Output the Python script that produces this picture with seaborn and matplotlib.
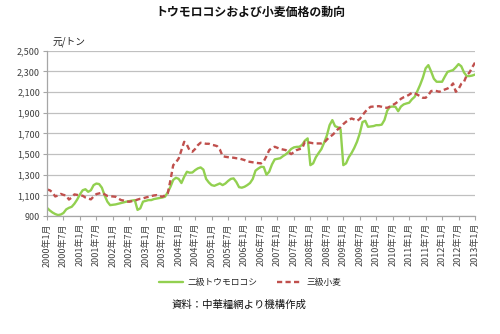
import matplotlib
matplotlib.use("Agg")
import matplotlib.pyplot as plt
import seaborn as sns
import pandas as pd
import numpy as np

# Monthly prices (yuan/ton), January 2000 through January 2013
corn = [
    980, 955, 935, 920, 910, 915, 930, 965, 980, 990, 1020, 1060,
    1110, 1150, 1160, 1135, 1150, 1200, 1215, 1210, 1175, 1100, 1040, 1006,
    1010, 1013, 1020, 1028, 1035, 1040, 1045, 1050, 1055, 960, 975, 1040,
    1048, 1055, 1055, 1065, 1070, 1075, 1080, 1087, 1130, 1184, 1250, 1271,
    1260, 1220, 1280, 1329, 1320, 1322, 1345, 1362, 1371, 1350, 1260, 1225,
    1200, 1193, 1205, 1216, 1200, 1215, 1240, 1260, 1265, 1230, 1180, 1175,
    1184, 1200, 1220, 1260, 1340, 1360, 1377, 1375, 1300, 1330, 1400, 1449,
    1455, 1460, 1480, 1497, 1520, 1550, 1565, 1570, 1571, 1590, 1630, 1652,
    1393, 1410, 1470, 1510, 1548, 1610, 1680, 1780, 1829, 1770, 1760, 1740,
    1393, 1410, 1470, 1510, 1560, 1620, 1700, 1810, 1822, 1764, 1768, 1771,
    1780, 1780, 1785, 1830, 1920, 1958, 1960, 1958, 1915, 1960, 1981, 1990,
    1997, 2030, 2054, 2110, 2170, 2240, 2330, 2361, 2300, 2230, 2200, 2200,
    2200, 2250, 2296, 2305, 2313, 2340, 2371, 2350, 2290, 2255, 2255, 2260,
    2270,
]
wheat = [
    1158, 1150, 1130, 1090, 1100, 1115, 1105, 1100, 1060, 1080, 1110, 1105,
    1100, 1097, 1080, 1070, 1062, 1090, 1113, 1120, 1126, 1110, 1095, 1093,
    1090, 1087, 1070, 1055, 1050, 1042, 1039, 1045, 1050, 1060, 1068, 1071,
    1080, 1087, 1095, 1100, 1103, 1095, 1087, 1100, 1119, 1248, 1393, 1420,
    1458, 1540, 1619, 1590, 1535, 1523, 1550, 1587, 1610, 1605, 1600, 1600,
    1590, 1585, 1577, 1545, 1480, 1474, 1470, 1468, 1465, 1460, 1458, 1450,
    1442, 1428, 1425, 1420, 1416, 1413, 1410, 1430, 1480, 1539, 1560, 1571,
    1560, 1550, 1545, 1539, 1520, 1500, 1520, 1539, 1548, 1555, 1619, 1615,
    1610, 1605, 1603, 1603, 1603, 1610, 1640, 1667, 1684, 1710, 1740, 1760,
    1790, 1813, 1830, 1845, 1835, 1822, 1840, 1877, 1910, 1940, 1958, 1960,
    1962, 1964, 1958, 1950, 1948, 1960, 1975, 1990, 2010, 2035, 2050, 2060,
    2075, 2093, 2090, 2075, 2060, 2045, 2045, 2070, 2110, 2115, 2110, 2103,
    2115, 2125, 2135, 2150, 2184, 2103, 2130, 2180, 2200, 2264, 2290, 2340,
    2385,
]
series_names = ["二級トウモロコシ", "三級小麦"]
years = list(range(2000, 2014))
tick_months = [1, 7]
y_ticks = [900, 1100, 1300, 1500, 1700, 1900, 2100, 2300, 2500]

months = np.arange(len(corn))
df = pd.DataFrame({
    "month": np.concatenate([months, months]),
    "price": corn + wheat,
    "series": [series_names[0]] * len(corn) + [series_names[1]] * len(wheat),
})

sns.set_theme(style="white")
plt.rcParams["font.family"] = ["Noto Sans CJK JP", "DejaVu Sans"]

fig = plt.figure(figsize=(5.0, 3.34), dpi=100)
ax = fig.add_axes([0.094, 0.353, 0.856, 0.495])

green = "#92d050"
red = "#c0504d"
sns.lineplot(data=df, x="month", y="price", hue="series", style="series",
             palette={series_names[0]: green, series_names[1]: red},
             dashes={series_names[0]: "", series_names[1]: (2.2, 1.4)},
             linewidth=1.7, ax=ax, legend=False)

ax.set_xlim(0, len(corn) - 1)
ax.set_ylim(900, 2500)
ax.set_yticks(y_ticks)
ax.set_yticklabels([f"{v:,}" for v in y_ticks], fontsize=6.5)

tick_pos, tick_lab = [], []
for i, y in enumerate(years):
    for m in tick_months:
        pos = i * 12 + (m - 1)
        if pos <= len(corn) - 1:
            tick_pos.append(pos)
            tick_lab.append(f"{y}年{m}月")
ax.set_xticks(tick_pos)
ax.set_xticklabels(tick_lab, rotation=90, fontsize=6.5, color="#404040")
for lab in ax.get_yticklabels():
    lab.set_color("#404040")

ax.grid(axis="y", color="#c0c0c0", linewidth=0.9)
ax.set_axisbelow(True)
for s in ["top", "right"]:
    ax.spines[s].set_visible(False)
for s in ["left", "bottom"]:
    ax.spines[s].set_color("#a6a6a6")
    ax.spines[s].set_linewidth(0.9)
ax.tick_params(axis="both", which="both", direction="out", length=3,
               width=0.8, color="#a6a6a6", pad=2, bottom=True, left=True)
ax.set_xlabel("")
ax.set_ylabel("")

fig.text(0.5, 0.962, "トウモロコシおよび小麦価格の動向", ha="center", va="center",
         fontsize=8.6, fontweight="bold", color="#111111")
fig.text(0.106, 0.874, "元/トン", ha="left", va="center", fontsize=7, color="#222222")

handles = [plt.Line2D([], [], color=green, linewidth=1.7),
           plt.Line2D([], [], color=red, linewidth=1.7, dashes=(2.2, 1.4))]
fig.legend(handles, series_names, loc="center", bbox_to_anchor=(0.5, 0.153),
           ncol=2, frameon=False, fontsize=6.3, handlelength=2.7,
           columnspacing=2.2, handletextpad=0.6)

fig.text(0.478, 0.088, "資料：中華糧網より機構作成", ha="center", va="center",
         fontsize=7.5, color="#111111")

fig.savefig("out.png", dpi=100)
